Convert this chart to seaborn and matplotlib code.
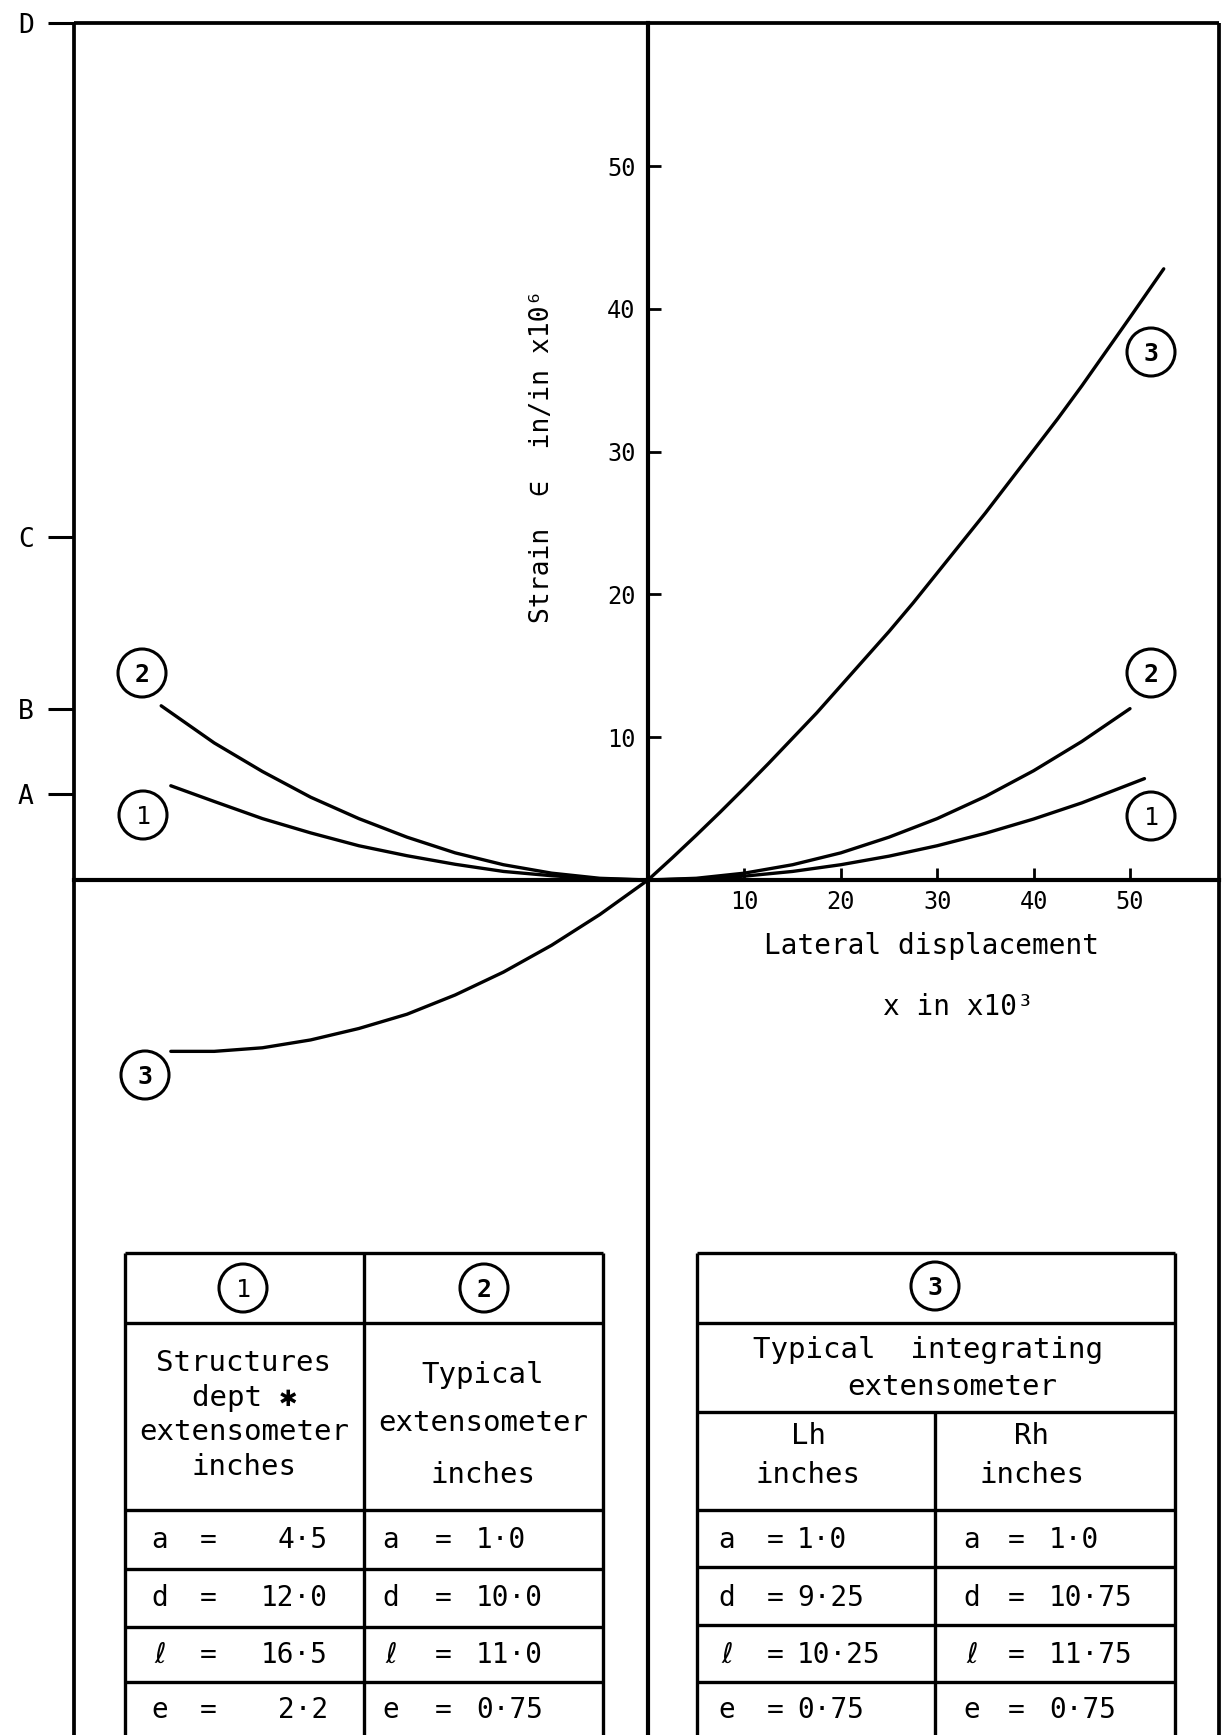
import numpy as np
import pandas as pd
import matplotlib
matplotlib.use('Agg')
import matplotlib.pyplot as plt
import seaborn as sns
from matplotlib.patches import Circle

# ---- data ----
# lateral displacement x (in x 10^3) and strain (in/in x 10^6)
c1_x = [-49.5, -45, -40, -35, -30, -25, -20, -15, -10, -5, 0, 5, 10, 15, 20, 25, 30, 35, 40, 45, 51.5]
c1_y = [6.6, 5.5, 4.3, 3.3, 2.4, 1.7, 1.1, 0.6, 0.3, 0.07, 0, 0.07, 0.27, 0.6, 1.07, 1.67, 2.4, 3.27, 4.27, 5.4, 7.1]

c2_x = [-50.5, -45, -40, -35, -30, -25, -20, -15, -10, -5, 0, 5, 10, 15, 20, 25, 30, 35, 40, 45, 50]
c2_y = [12.2, 9.6, 7.6, 5.8, 4.3, 3.0, 1.9, 1.07, 0.48, 0.12, 0, 0.12, 0.48, 1.07, 1.9, 3.0, 4.3, 5.85, 7.65, 9.7, 12.0]

c3_x = [-49.5, -45, -40, -35, -30, -25, -20, -15, -10, -5, 0, 2.5, 5, 7.5, 10, 12.5, 15, 17.5, 20, 22.5, 25,
        27.5, 30, 32.5, 35, 37.5, 40, 42.5, 45, 47.5, 50, 53.5]
c3_y = [-12.0, -12.0, -11.75, -11.2, -10.4, -9.4, -8.05, -6.45, -4.57, -2.42, 0, 1.54, 3.13, 4.76, 6.44, 8.16,
        9.93, 11.7, 13.6, 15.5, 17.4, 19.4, 21.5, 23.6, 25.7, 27.9, 30.1, 32.3, 34.6, 37.0, 39.4, 42.8]

x_ticks = [10, 20, 30, 40, 50]
y_ticks = [10, 20, 30, 40, 50]

level_vals = [6, 12, 24, 60]
level_names = ['A', 'B', 'C', 'D']

row_vars = ['a', 'd', 'ℓ', 'e']
ext1_vals = ['4·5', '12·0', '16·5', '2·2']
ext2_vals = ['1·0', '10·0', '11·0', '0·75']
lh_vals = ['1·0', '9·25', '10·25', '0·75']
rh_vals = ['1·0', '10·75', '11·75', '0·75']

# ---- layout (pixels) ----
W, H = 1225, 1735
X0, Y0 = 648, 880          # pixel position of the origin
PX_X, PX_Y = 9.64, 14.28   # pixels per data unit
LEFT, RIGHT = 74, 1219

sns.set_theme(style='white')
plt.rcParams['font.family'] = ['DejaVu Sans Mono', 'DejaVu Sans']

fig = plt.figure(figsize=(12.25, 17.35), dpi=100)
ax = fig.add_axes([0, 0, 1, 1])
ax.set_xlim(-X0 / PX_X, (W - X0) / PX_X)
ax.set_ylim((Y0 - H) / PX_Y, Y0 / PX_Y)

df = pd.concat([
    pd.DataFrame({'x': c1_x, 'strain': c1_y, 'curve': 1}),
    pd.DataFrame({'x': c2_x, 'strain': c2_y, 'curve': 2}),
    pd.DataFrame({'x': c3_x, 'strain': c3_y, 'curve': 3}),
])
sns.lineplot(data=df, x='x', y='strain', units='curve', estimator=None,
             color='black', lw=2.4, ax=ax, sort=False)
ax.set_xlabel('')
ax.set_ylabel('')
ax.grid(False)

top_data = level_vals[-1]
ax.spines[['top', 'right']].set_visible(False)
for s in ['left', 'bottom']:
    ax.spines[s].set_position(('data', 0))
    ax.spines[s].set_linewidth(3.0)
    ax.spines[s].set_color('black')
ax.spines['left'].set_bounds((Y0 - H) / PX_Y, top_data)
ax.spines['bottom'].set_bounds((LEFT - X0) / PX_X, (RIGHT - X0) / PX_X)

ax.set_xticks(x_ticks, labels=[str(t) for t in x_ticks])
ax.set_yticks(y_ticks, labels=[str(t) for t in y_ticks])
ax.tick_params(axis='both', direction='in', length=9, width=2, colors='black',
               labelsize=17, bottom=True, left=True)
ax.tick_params(axis='x', pad=7)
ax.tick_params(axis='y', pad=9)

# reference levels A-D on the left border
sec = ax.secondary_yaxis(LEFT / W)
sec.set_yticks(level_vals, labels=level_names)
sec.tick_params(direction='out', length=19, width=2.2, labelsize=19, pad=10,
                colors='black', left=True)
sec.spines['left'].set_visible(False)

# ---- overlay in pixel coords: frame, labels, tables ----
ov = fig.add_axes([0, 0, 1, 1], facecolor='none', label='overlay')
ov.set_xlim(0, W)
ov.set_ylim(H, 0)
ov.axis('off')

top_y = Y0 - top_data * PX_Y


def seg(x1, y1, x2, y2, lw=2.4):
    ov.plot([x1, x2], [y1, y2], color='black', lw=lw, solid_capstyle='butt')


seg(LEFT, top_y, RIGHT, top_y, lw=2.7)
seg(LEFT, top_y, LEFT, H, lw=2.7)
seg(RIGHT, top_y, RIGHT, H, lw=2.7)


def circ(x, y, s, bold=True):
    ov.add_patch(Circle((x, y), 24, fill=False, lw=2.2, ec='black'))
    ov.text(x, y + 2, s, ha='center', va='center', fontsize=18,
            fontweight='bold' if bold else 'normal', color='black')


circ(142, 673, '2')
circ(143, 815, '1', bold=False)
circ(145, 1075, '3')
circ(1151, 352, '3')
circ(1151, 673, '2')
circ(1151, 816, '1', bold=False)

# axis titles
ov.text(542, 456, 'Strain  ∈  in/in x10⁶', rotation=90, ha='center', va='center',
        fontsize=19, color='black')
ov.text(931, 946, 'Lateral displacement', ha='center', va='center', fontsize=20, color='black')
ov.text(958, 1007, 'x in x10³', ha='center', va='center', fontsize=20, color='black')

# left table (curves 1 and 2)
lt_x = [125, 364, 603]
lt_y = [1253, 1323, 1510, 1569, 1627, 1682]
for xx in lt_x:
    seg(xx, lt_y[0], xx, H)
for yy in lt_y:
    seg(lt_x[0], yy, lt_x[-1], yy)

# right table (curve 3)
rt_x = [697, 935, 1175]
rt_y = [1253, 1323, 1412, 1510, 1567, 1625, 1682]
seg(rt_x[0], rt_y[0], rt_x[0], H)
seg(rt_x[2], rt_y[0], rt_x[2], H)
seg(rt_x[1], rt_y[2], rt_x[1], H)
for yy in rt_y:
    seg(rt_x[0], yy, rt_x[-1], yy)

circ(243, 1288, '1', bold=False)
circ(484, 1288, '2')
circ(935, 1286, '3')

tfs = 21
ov.text(244, 1415, 'Structures\ndept ✱\nextensometer\ninches', ha='center', va='center',
        multialignment='center', fontsize=tfs, linespacing=1.3, color='black')
ov.text(483, 1375, 'Typical', ha='center', va='center', fontsize=tfs, color='black')
ov.text(483, 1423, 'extensometer', ha='center', va='center', fontsize=tfs, color='black')
ov.text(483, 1475, 'inches', ha='center', va='center', fontsize=tfs, color='black')

ov.text(928, 1350, 'Typical  integrating', ha='center', va='center', fontsize=tfs, color='black')
ov.text(952, 1387, 'extensometer', ha='center', va='center', fontsize=tfs, color='black')
ov.text(808, 1436, 'Lh', ha='center', va='center', fontsize=tfs, color='black')
ov.text(808, 1475, 'inches', ha='center', va='center', fontsize=tfs, color='black')
ov.text(1032, 1436, 'Rh', ha='center', va='center', fontsize=tfs, color='black')
ov.text(1032, 1475, 'inches', ha='center', va='center', fontsize=tfs, color='black')

row_y = [1540, 1598, 1655, 1710]
# (letter x, '=' x, value x, value alignment)
cols = [
    (160, 208, 328, 'right', ext1_vals),
    (391, 443, 476, 'left', ext2_vals),
    (727, 775, 797, 'left', lh_vals),
    (972, 1016, 1049, 'left', rh_vals),
]
vfs = 20
for lx, ex, vx, ha, vals in cols:
    for yy, var, val in zip(row_y, row_vars, vals):
        ov.text(lx, yy, var, ha='center', va='center', fontsize=vfs, color='black')
        ov.text(ex, yy, '=', ha='center', va='center', fontsize=vfs, color='black')
        ov.text(vx, yy, val, ha=ha, va='center', fontsize=vfs, color='black')

fig.savefig('out.png', dpi=100, facecolor='white')
